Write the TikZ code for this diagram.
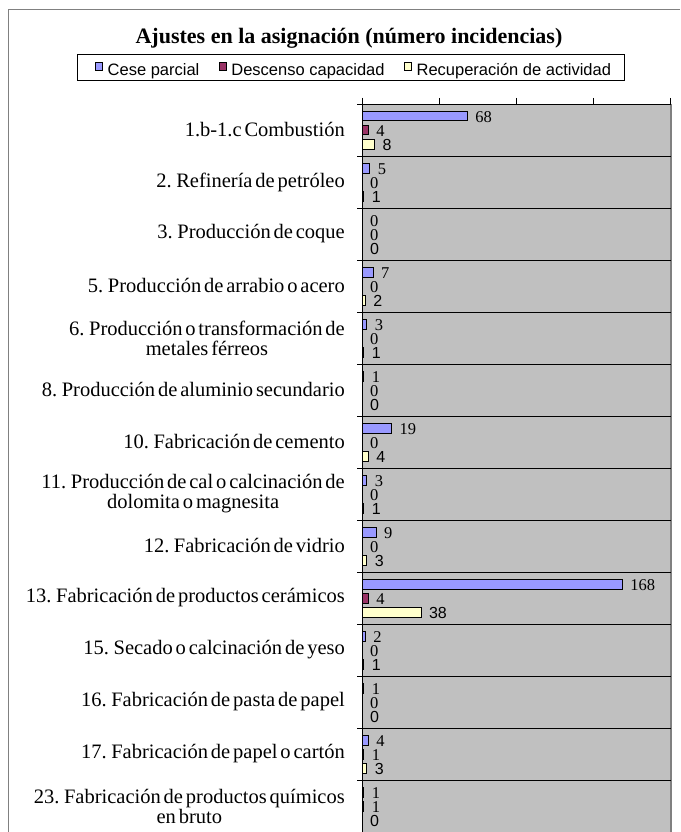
\documentclass[tikz,border=0pt]{standalone}
\usepackage{fontspec}
\setmainfont{Liberation Serif}
\setsansfont{Liberation Sans}
\usetikzlibrary{positioning}
\definecolor{cese}{RGB}{153,153,255}
\definecolor{descenso}{RGB}{153,51,102}
\definecolor{recup}{RGB}{255,255,204}
\definecolor{plotbg}{RGB}{192,192,192}
\definecolor{framegray}{RGB}{128,128,128}
\def\axisx{362}
\def\plotright{671}
\def\plottop{104}
\def\rowh{52}
\def\unitw{1.548}
\def\barh{4.8}
\newcommand{\tightwords}{\fontdimen2\font=0.14em\relax}

\begin{document}
\begin{tikzpicture}[x=1pt,y=-1pt,
  catlabel/.style={anchor=east,align=center,inner sep=0pt,
    font=\fontsize{20.5}{20}\selectfont\tightwords},
  servalue/.style={anchor=west,inner sep=0pt,font=\fontsize{16.5}{17}\selectfont},
  sansvalue/.style={anchor=west,inner sep=0pt,font=\sffamily\fontsize{16}{17}\selectfont},
  keybox/.style={draw,line width=0.6pt,minimum size=7.5pt,inner sep=0pt},
  keytext/.style={inner sep=0pt,font=\sffamily\fontsize{16.5}{17}\selectfont},
  grid/.style={line width=0.9pt}]
\useasboundingbox (0,0) rectangle (680,832);
\draw[framegray,line width=1pt] (8,832) -- (8,10) -- (680,10);

% title and legend
\node[font=\bfseries\fontsize{22}{24}\selectfont,anchor=base] (title) at (349,43.5) {Ajustes en la asignación (número incidencias)};
\node[draw,line width=0.7pt,minimum width=547pt,minimum height=26pt] (legend) at (350.5,67) {};
\node[keybox,fill=cese] (keycese) at (99,66.5) {};
\node[keytext,anchor=base west] (txtcese) at (107.5,76) {Cese parcial};
\node[keybox,fill=descenso,right=19pt of txtcese.east|-keycese] (keydesc) {};
\node[keytext,anchor=base west] (txtdesc) at ([xshift=4.5pt]keydesc.east|-txtcese.base) {Descenso capacidad};
\node[keybox,fill=recup,right=19pt of txtdesc.east|-keycese] (keyrecup) {};
\node[keytext,anchor=base west] (txtrecup) at ([xshift=4.5pt]keyrecup.east|-txtcese.base) {Recuperación de actividad};

% plot area
\fill[plotbg] (\axisx,\plottop) rectangle (\plotright,832);
\draw[framegray,line width=1.2pt] (\plotright,\plottop) -- (\plotright,832);
\foreach \r in {0,...,13}
  \draw[grid] (\axisx-5,\plottop+\r*\rowh) -- (\plotright,\plottop+\r*\rowh);
\foreach \t in {0,...,4}
  \draw[grid] (\axisx+\t*77,\plottop-6) -- (\axisx+\t*77,\plottop);
\draw[grid] (\axisx,\plottop-6) -- (\axisx,832);

% categories and bars
\foreach \i/\lab/\a/\b/\c in {
  1/{1.b-1.c Combustión}/68/4/8,
  2/{2. Refinería de petróleo}/5/0/1,
  3/{3. Producción de coque}/0/0/0,
  4/{5. Producción de arrabio o acero}/7/0/2,
  5/{6. Producción o transformación de\\metales férreos}/3/0/1,
  6/{8. Producción de aluminio secundario}/1/0/0,
  7/{10. Fabricación de cemento}/19/0/4,
  8/{11. Producción de cal o calcinación de\\dolomita o magnesita}/3/0/1,
  9/{12. Fabricación de vidrio}/9/0/3,
  10/{13. Fabricación de productos cerámicos}/168/4/38,
  11/{15. Secado o calcinación de yeso}/2/0/1,
  12/{16. Fabricación de pasta de papel}/1/0/0,
  13/{17. Fabricación de papel o cartón}/4/1/3,
  14/{23. Fabricación de productos químicos\\en bruto}/1/1/0}{
  \pgfmathsetmacro\rowtop{\plottop+(\i-1)*\rowh}
  \node[catlabel] (cat\i) at (345,\rowtop+26) {\lab};
  \foreach \k/\v/\col/\sty in {1/\a/cese/servalue,2/\b/descenso/servalue,3/\c/recup/sansvalue}{
    \pgfmathsetmacro\yc{\rowtop+12+(\k-1)*14}
    \ifnum\v>0
      \draw[fill=\col,line width=0.6pt] (\axisx,\yc-\barh) rectangle (\axisx+\v*\unitw,\yc+\barh);
    \fi
    \node[\sty] (val\i-\k) at (\axisx+\v*\unitw+8,\yc+1) {\v};
  }
}
\end{tikzpicture}
\end{document}
